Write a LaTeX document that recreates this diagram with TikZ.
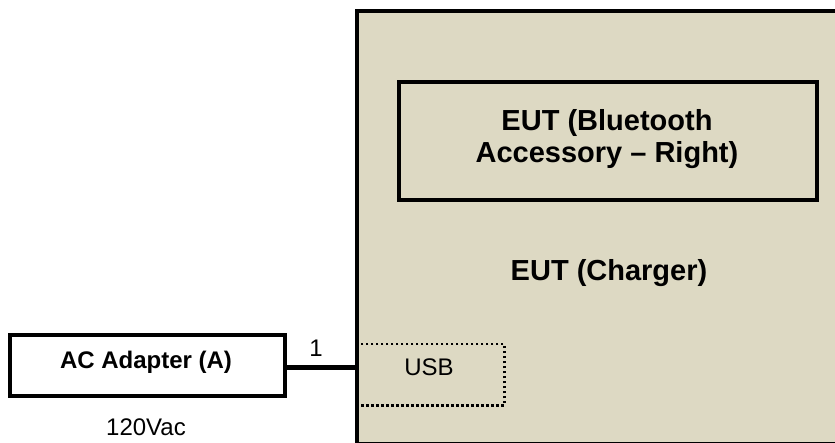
\documentclass[tikz,border=0pt]{standalone}
\usepackage{fontspec}
\setmainfont{Liberation Sans}
\begin{document}
\begin{tikzpicture}[x=1pt,y=-1pt,
  boxline/.style={draw=black,line width=4pt},
  bigtxt/.style={font=\fontsize{29}{34}\selectfont\bfseries},
  smalltxt/.style={font=\fontsize{24}{28}\selectfont},
  smallbold/.style={font=\fontsize{24}{28}\selectfont\bfseries}]
\definecolor{khaki}{RGB}{221,217,195}
\useasboundingbox (0,0) rectangle (835,443);
\clip (0,0) rectangle (835,443);
\fill[white] (0,0) rectangle (835,443);
% charger box (extends past the right edge)
\node[boxline,fill=khaki,rectangle,anchor=north west,inner sep=0pt,
      minimum width=520pt,minimum height=433pt] (charger) at (355,9) {};
% inner Bluetooth accessory box
\node[boxline,rectangle,anchor=north west,inner sep=0pt,
      minimum width=418pt,minimum height=118pt] (bt) at (397,80) {};
\node[bigtxt,anchor=base] (btA) at (607,131) {EUT (Bluetooth};
\node[bigtxt,anchor=base] (btB) at (607,163) {Accessory -- Right)};
\node[bigtxt,anchor=base] (chtxt) at (609,281) {EUT (Charger)};
% USB port
\node[draw=black,line width=2.5pt,dash pattern=on 2.5pt off 2.5pt,rectangle,anchor=north west,inner sep=0pt,
      minimum width=148pt,minimum height=61pt] (usb) at (355,343) {};
\node[smalltxt,anchor=base] (usbtxt) at (429,376) {USB};
% AC adapter
\node[boxline,fill=white,rectangle,anchor=north west,inner sep=0pt,
      minimum width=275pt,minimum height=61pt] (ac) at (8,333) {};
\node[smallbold,anchor=base] (actxt) at (146,369) {AC Adapter (A)};
\node[smalltxt,anchor=base] (vac) at (146,435) {120Vac};
% cable
\coordinate (acR) at ([yshift=-2pt]ac.east);
\draw[line width=4.5pt] (acR) -- (acR -| charger.west);
\node[smalltxt,anchor=base] (lab1) at (316,357) {1};
\end{tikzpicture}
\end{document}
